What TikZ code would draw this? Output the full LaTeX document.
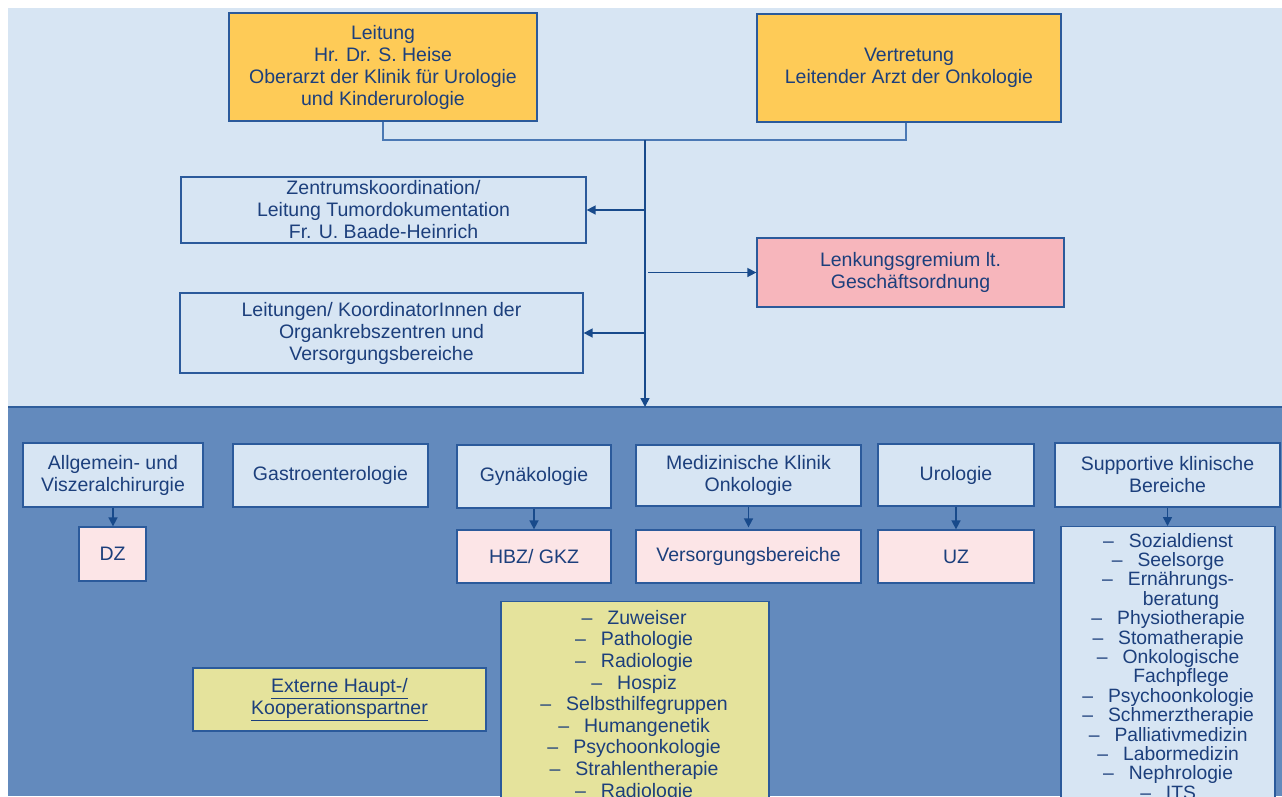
\documentclass[tikz,border=0pt]{standalone}
\usepackage{fontspec}
\setmainfont{Liberation Sans}
\usetikzlibrary{arrows.meta}
\definecolor{bgl}{HTML}{D7E5F3}
\definecolor{bgd}{HTML}{638ABD}
\definecolor{sepc}{HTML}{2F5E9C}
\definecolor{bord}{HTML}{2B5A9B}
\definecolor{txt}{HTML}{1C3F7C}
\definecolor{arrc}{HTML}{184A8B}
\definecolor{lnc}{HTML}{4A78B4}
\definecolor{gold}{HTML}{FECB57}
\definecolor{pinkA}{HTML}{F7B6BC}
\definecolor{pinkB}{HTML}{FCE5E7}
\definecolor{khaki}{HTML}{E5E39C}
\newcommand{\dsh}{\llap{–\hspace{15pt}}}
\begin{document}
\setlength{\lineskiplimit}{-30pt}\setlength{\lineskip}{0pt}%
\begin{tikzpicture}[x=1pt,y=-1pt,
  box/.style={draw=bord, line width=1.3pt, text=txt, align=center, inner sep=0pt,
    font=\fontsize{19.5}{22}\selectfont},
  listtxt/.style={text=txt, align=center, inner sep=0pt, anchor=north},
  arr/.style={draw=arrc, line width=1.6pt, -{Triangle[length=9pt,width=9pt]}},
  ln/.style={draw=lnc, line width=1.8pt}
]
\useasboundingbox (0,0) rectangle (1282,796);
\clip (0,0) rectangle (1282,796);
\fill[white] (0,0) rectangle (1282,796);
\fill[bgl] (8,8) rectangle (1282,407);
\fill[bgd] (8,407) rectangle (1282,796);
\draw[sepc, line width=2pt] (8,407) -- (1282,407);

% top boxes
\node[box, fill=gold, minimum width=308pt, minimum height=108pt] (lead) at (383,67)
  {Leitung\\Hr. Dr. S. Heise\\Oberarzt der Klinik für Urologie\\und Kinderurologie};
\node[box, fill=gold, minimum width=304pt, minimum height=108pt] (vert) at (909,68)
  {Vertretung\\Leitender Arzt der Onkologie};
\node[box, fill=bgl, minimum width=405pt, minimum height=66pt] (zk) at (383.5,210)
  {Zentrumskoordination/\\Leitung Tumordokumentation\\Fr. U. Baade-Heinrich};
\node[box, fill=pinkA, minimum width=307pt, minimum height=69pt] (lenk) at (910.5,272.5)
  {Lenkungsgremium lt.\\Geschäftsordnung};
\node[box, fill=bgl, minimum width=403pt, minimum height=80pt] (ltg) at (381.5,333)
  {Leitungen/ KoordinatorInnen der\\Organkrebszentren und\\Versorgungsbereiche};

\coordinate (j) at (645,140);
\coordinate (tb) at (645,407);
\draw[ln] (lead.south) |- (j);
\draw[ln] ([xshift=-3pt]vert.south) |- (j);
\draw[arr] (j) -- (tb);
\draw[arr] (j |- zk.east) -- (zk.east);
\draw[arr] ([xshift=3pt]j |- lenk.west) -- (lenk.west);
\draw[arr] (j |- ltg.east) -- (ltg.east);

% bottom row
\node[box, fill=bgl, minimum width=180pt, minimum height=64pt] (allg) at (113,475)
  {Allgemein- und\\Viszeralchirurgie};
\node[box, fill=bgl, minimum width=195pt, minimum height=63pt] (gastro) at (330.5,475.5)
  {Gastroenterologie};
\node[box, fill=bgl, minimum width=154pt, minimum height=63pt] (gyn) at (534,476.5)
  {Gynäkologie};
\node[box, fill=bgl, minimum width=225pt, minimum height=61pt] (med) at (748.5,475.5)
  {Medizinische Klinik\\Onkologie};
\node[box, fill=bgl, minimum width=156pt, minimum height=62pt] (uro) at (956,475)
  {Urologie};
\node[box, fill=bgl, minimum width=225pt, minimum height=64pt] (supp) at (1167.5,475)
  {Supportive klinische\\Bereiche};

\node[box, fill=pinkB, minimum width=67pt, minimum height=54pt] (dz) at (112.5,554) {DZ};
\node[box, fill=pinkB, minimum width=154pt, minimum height=53pt] (hbz) at (534,556.5) {HBZ/ GKZ};
\node[box, fill=pinkB, minimum width=225pt, minimum height=53pt] (vers) at (748.5,556.5) {Versorgungsbereiche};
\node[box, fill=pinkB, minimum width=156pt, minimum height=53pt] (uz) at (956,556.5) {UZ};
\node[box, fill=bgl, minimum width=214pt, minimum height=320pt, anchor=north] (slist) at (1168,526) {};

\draw[arr] (allg.south) -- (allg.south |- dz.north);
\draw[arr] (gyn.south) -- (hbz.north);
\draw[arr] (med.south) -- ([yshift=2pt]vers.north);
\draw[arr] (uro.south) -- (uz.north);
\draw[arr] (supp.south) -- (supp.south |- slist.north);

\node[listtxt, font=\fontsize{19.3}{19.4}\selectfont] (slisttxt) at (1181,533)
  {\strut\dsh Sozialdienst\\\strut\dsh Seelsorge\\\strut\dsh Ernährungs-\\\strut beratung\\
   \strut\dsh Physiotherapie\\\strut\dsh Stomatherapie\\\strut\dsh Onkologische\\\strut Fachpflege\\
   \strut\dsh Psychoonkologie\\\strut\dsh Schmerztherapie\\\strut\dsh Palliativmedizin\\
   \strut\dsh Labormedizin\\\strut\dsh Nephrologie\\\strut\dsh ITS};

% external partners
\node[box, fill=khaki, minimum width=293pt, minimum height=63pt] (ext) at (339.5,699.5)
  {\underline{Externe Haupt-/}\\\underline{Kooperationspartner}};
\node[box, fill=khaki, minimum width=268pt, minimum height=300pt, anchor=north] (elist) at (635,601) {};
\node[listtxt, font=\fontsize{19.5}{21.6}\selectfont] (elisttxt) at (647,609)
  {\strut\dsh Zuweiser\\\strut\dsh Pathologie\\\strut\dsh Radiologie\\\strut\dsh Hospiz\\
   \strut\dsh Selbsthilfegruppen\\\strut\dsh Humangenetik\\\strut\dsh Psychoonkologie\\
   \strut\dsh Strahlentherapie\\\strut\dsh Radiologie};
\end{tikzpicture}
\end{document}
